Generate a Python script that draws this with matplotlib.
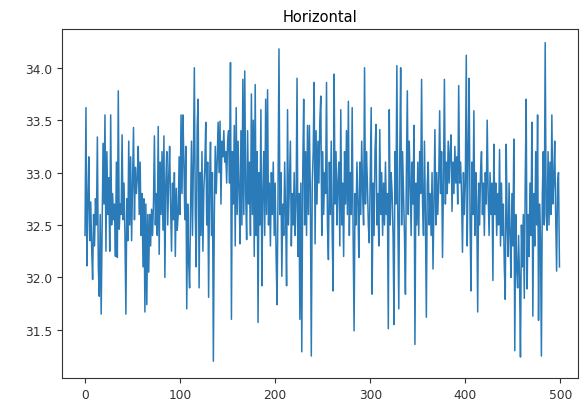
import matplotlib
matplotlib.use("Agg")
import matplotlib.pyplot as plt
import numpy as np

title = "Horizontal"
xticks = [0, 100, 200, 300, 400, 500]
yticks = [31.5, 32.0, 32.5, 33.0, 33.5, 34.0]

seg1 = [
    32.40, 33.62, 32.11, 32.70, 33.15, 32.35, 32.72, 32.28, 31.98, 32.60,
    32.30, 32.75, 32.50, 33.34, 32.10, 31.82, 32.60, 31.65, 32.45, 33.28,
    32.70, 33.55, 32.25, 33.20, 32.60, 32.95, 32.25, 33.55, 32.50, 32.80,
    32.55, 32.70, 32.20, 33.10, 32.19, 33.78, 32.46, 32.70, 32.60, 33.36,
    32.55, 32.90, 32.40, 31.65, 32.75, 32.35, 33.30, 32.50, 33.15, 32.35,
    32.90, 33.43, 32.55, 33.05, 32.80, 32.95, 33.25, 32.60, 33.10, 32.40,
    32.80, 32.10, 32.75, 31.67, 32.70, 31.74, 32.60, 32.05, 32.60, 32.30,
    32.65, 32.40, 32.70, 33.35, 32.50, 32.80, 32.40, 33.44, 32.22, 33.10,
    32.60, 33.20, 32.45, 33.35, 32.00, 32.90, 33.20, 32.50, 32.95, 33.25,
    32.70, 32.25, 32.90, 32.55, 33.00, 32.20, 32.85, 32.45, 32.60, 33.15,
]
seg2 = [
    32.60, 33.55, 32.80, 33.55, 33.10, 32.55, 33.25, 31.70, 32.70, 32.15,
    31.90, 32.65, 33.30, 32.40, 33.10, 34.00, 32.60, 32.10, 33.45, 33.70,
    31.90, 33.00, 32.40, 33.20, 32.25, 32.85, 33.05, 33.48, 32.50, 33.10,
    31.81, 32.90, 33.29, 32.40, 33.00, 31.20, 32.60, 33.25, 32.80, 33.10,
    33.48, 33.00, 33.49, 32.70, 33.30, 33.15, 33.40, 33.10, 33.20, 32.90,
    33.30, 33.40, 32.90, 34.05, 31.60, 33.20, 32.70, 33.45, 32.30, 33.62,
    32.60, 33.30, 32.85, 32.32, 33.40, 32.50, 33.89, 32.60, 33.97, 32.80,
    32.36, 33.40, 32.70, 33.10, 32.40, 33.75, 32.60, 33.50, 32.20, 33.84,
    32.40, 33.20, 31.57, 33.00, 32.50, 33.60, 31.92, 32.80, 33.20, 32.40,
    33.70, 32.60, 33.79, 32.50, 32.90, 32.30, 33.00, 32.60, 33.10, 32.40,
]
seg3 = [
    32.90, 32.20, 31.74, 32.80, 34.18, 32.60, 33.00, 32.01, 32.70, 32.40,
    33.10, 32.60, 31.92, 33.60, 32.50, 32.90, 33.30, 32.30, 32.80, 32.50,
    33.00, 32.40, 32.70, 33.90, 32.20, 32.80, 31.60, 32.90, 31.29, 33.00,
    33.70, 32.50, 33.20, 32.40, 33.45, 32.60, 33.45, 32.80, 31.25, 32.90,
    33.20, 33.86, 32.32, 33.40, 32.70, 33.30, 32.90, 33.50, 33.73, 32.40,
    33.20, 32.60, 33.00, 32.80, 33.86, 32.50, 32.17, 33.10, 32.60, 33.30,
    32.40, 31.87, 33.94, 32.70, 33.20, 32.50, 32.90, 33.10, 32.30, 33.60,
    32.50, 32.90, 32.20, 33.20, 32.70, 33.40, 32.60, 33.68, 32.40, 33.00,
    32.60, 33.62, 32.40, 31.49, 32.80, 32.50, 33.10, 32.70, 32.19, 33.10,
    32.60, 33.30, 32.80, 32.50, 34.00, 32.70, 33.20, 32.90, 32.50, 32.33,
]
seg4 = [
    33.00, 33.62, 31.84, 32.90, 32.40, 33.20, 33.46, 32.50, 32.80, 32.30,
    33.41, 32.60, 33.00, 32.40, 32.90, 32.50, 33.10, 32.60, 32.80, 31.51,
    33.60, 32.50, 33.00, 32.80, 32.40, 31.55, 33.20, 32.70, 34.02, 32.60,
    31.70, 33.10, 34.00, 32.50, 33.20, 32.80, 32.40, 31.84, 33.00, 33.78,
    32.60, 33.30, 32.90, 32.40, 33.10, 32.70, 33.45, 31.36, 32.90, 32.50,
    33.10, 32.40, 33.20, 32.80, 33.89, 32.70, 32.40, 33.30, 32.60, 31.62,
    32.90, 33.10, 32.50, 32.80, 32.40, 33.00, 32.08, 32.70, 33.41, 32.50,
    33.00, 32.60, 32.90, 33.59, 32.80, 33.20, 32.19, 32.90, 33.89, 32.70,
    33.10, 32.80, 33.30, 32.90, 33.20, 33.36, 32.63, 33.10, 32.80, 33.25,
    32.90, 33.15, 32.70, 33.83, 32.90, 33.10, 32.80, 32.24, 33.00, 32.60,
]
seg5 = [
    32.90, 34.12, 32.30, 33.20, 33.90, 32.50, 31.87, 33.10, 32.60, 33.59,
    32.40, 33.00, 32.70, 31.67, 32.90, 32.50, 33.00, 33.20, 32.60, 32.90,
    32.40, 33.00, 32.70, 33.50, 32.80, 32.40, 33.00, 32.60, 32.90, 31.97,
    33.27, 32.60, 32.90, 32.40, 32.80, 32.50, 33.22, 32.30, 32.90, 32.40,
    32.70, 32.10, 31.79, 33.27, 32.50, 32.20, 32.90, 32.40, 32.00, 32.80,
    32.30, 33.32, 31.30, 32.60, 32.10, 31.90, 32.40, 32.00, 31.24, 32.50,
    32.10, 32.60, 31.80, 32.90, 33.70, 31.89, 32.60, 32.20, 32.90, 32.40,
    33.48, 31.63, 32.80, 32.30, 33.20, 32.50, 33.55, 31.59, 32.70, 32.40,
    31.25, 32.80, 33.20, 32.50, 34.24, 32.60, 32.45, 33.20, 32.50, 33.10,
    32.60, 33.55, 32.70, 32.90, 33.30, 32.60, 32.06, 32.90, 33.00, 32.10,
]

values = np.array(seg1 + seg2 + seg3 + seg4 + seg5)
index = np.arange(len(values))

fig = plt.figure(figsize=(5.87, 4.02), dpi=100)
ax = fig.add_axes([62 / 587, 1 - 379 / 402, (578 - 62) / 587, (379 - 30) / 402])
ax.plot(index, values, color="#2a7bb8", linewidth=1.1)
ax.set_title(title, fontsize=10.5)
ax.set_xlim(-24.2, 518.5)
ax.set_ylim(31.04, 34.37)
ax.set_xticks(xticks)
ax.set_yticks(yticks)
ax.tick_params(labelsize=8.8, colors="#333333")
for s in ax.spines.values():
    s.set_color("#333333")
fig.savefig("out.png", dpi=100)
